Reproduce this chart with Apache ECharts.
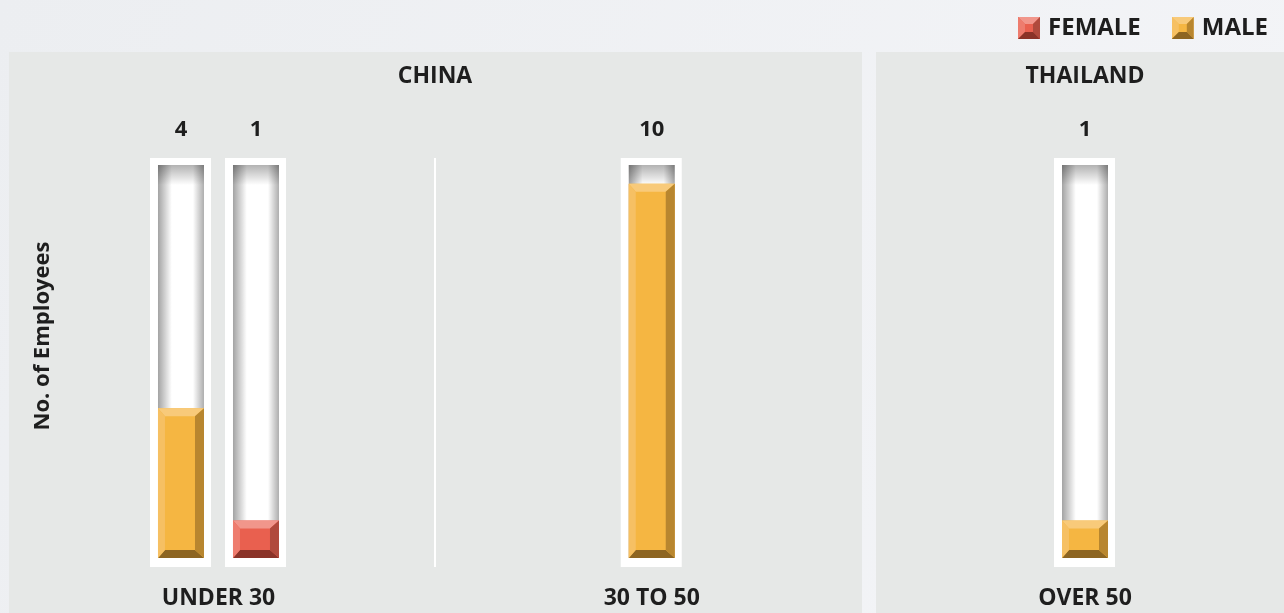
<!DOCTYPE html>
<html>
<head>
<meta charset="utf-8">
<script src="https://cdn.jsdelivr.net/npm/echarts@6/dist/echarts.min.js"></script>
<style>
html,body{margin:0;padding:0;}
#c{width:1284px;height:613px;}
</style>
</head>
<body>
<div id="c"></div>
<script>
const categories = ['UNDER 30', '30 TO 50', 'OVER 50'];
const countries = ['CHINA', 'THAILAND'];
const maleValues = [4, 10, 1];
const femaleValues = [1, null, null];
const yMax = 10.5;

const FONT = "'Open Sans', 'Noto Sans', sans-serif";
const TXT = '#1e1e1e';
const palMale = {main:'#f5b642', top:'#f8ca7a', left:'#f6c063', right:'#b8862f', bottom:'#8d6522'};
const palFemale = {main:'#e9604f', top:'#f1968b', left:'#ee7c6e', right:'#b04a3c', bottom:'#8a3328'};

function iconSvg(p){
  const s = '<svg xmlns="http://www.w3.org/2000/svg" width="22" height="22" viewBox="0 0 22 22">' +
    '<rect x="0" y="0" width="22" height="22" fill="'+p.main+'"/>' +
    '<polygon points="0,0 22,0 15,7 7,7" fill="'+p.top+'"/>' +
    '<polygon points="0,0 7,7 7,15 0,22" fill="'+p.left+'"/>' +
    '<polygon points="22,0 22,22 15,15 15,7" fill="'+p.right+'"/>' +
    '<polygon points="0,22 22,22 15,15 7,15" fill="'+p.bottom+'"/>' +
    '</svg>';
  return 'image://data:image/svg+xml;charset=utf-8,' + encodeURIComponent(s);
}

function makeRender(pal, side){
  return function(params, api){
    const i = api.value(0), v = api.value(1);
    const both = maleValues[i] != null && femaleValues[i] != null;
    const off = both ? side * 37.5 : 0;
    const base = api.coord([i, 0]);
    const topP = api.coord([i, yMax]);
    const valP = api.coord([i, v]);
    const cx = base[0] + off;
    const x0 = cx - 23, x1 = cx + 23;
    const yT = topP[1], yB = base[1], yV = valP[1];
    const bl = 7, br = 9, bt = 8, bb = 8;
    const children = [
      {type:'rect', shape:{x:cx-31, y:yT-7, width:61, height:(yB-yT)+16}, style:{fill:'#ffffff'}},
      {type:'rect', shape:{x:x0, y:yT, width:46, height:yB-yT}, style:{fill:'#ffffff'}},
      {type:'rect', shape:{x:x0, y:yT, width:46, height:yB-yT}, style:{fill:new echarts.graphic.LinearGradient(0,0,1,0,[
        {offset:0,color:'rgba(0,0,0,0.36)'},{offset:0.3,color:'rgba(0,0,0,0)'},
        {offset:0.76,color:'rgba(0,0,0,0)'},{offset:1,color:'rgba(0,0,0,0.32)'}])}},
      {type:'rect', shape:{x:x0, y:yT, width:46, height:20}, style:{fill:new echarts.graphic.LinearGradient(0,0,0,1,[
        {offset:0,color:'rgba(0,0,0,0.30)'},{offset:1,color:'rgba(0,0,0,0)'}])}},
      {type:'rect', shape:{x:x0, y:yV, width:46, height:yB-yV}, style:{fill:pal.main}},
      {type:'polygon', shape:{points:[[x0,yV],[x1,yV],[x1-br,yV+bt],[x0+bl,yV+bt]]}, style:{fill:pal.top}},
      {type:'polygon', shape:{points:[[x0,yB],[x1,yB],[x1-br,yB-bb],[x0+bl,yB-bb]]}, style:{fill:pal.bottom}},
      {type:'polygon', shape:{points:[[x0,yV],[x0+bl,yV+bt],[x0+bl,yB-bb],[x0,yB]]}, style:{fill:pal.left}},
      {type:'polygon', shape:{points:[[x1,yV],[x1-br,yV+bt],[x1-br,yB-bb],[x1,yB]]}, style:{fill:pal.right}},
      {type:'text', x:cx, y:yT-35, style:{text:String(v), fill:TXT, font:'bold 22px '+FONT, align:'center', verticalAlign:'middle'}}
    ];
    // category label drawn once per category (by the male series)
    if (side === -1) {
      children.push({type:'text', x:base[0], y:yB+40, style:{text:categories[i], fill:TXT, font:'bold 23px '+FONT, align:'center', verticalAlign:'middle'}});
    }
    return {type:'group', children:children};
  };
}

const maleData = maleValues.map((v,i)=> v==null ? null : [i, v]).filter(d=>d);
const femaleData = femaleValues.map((v,i)=> v==null ? null : [i, v]).filter(d=>d);

const chart = echarts.init(document.getElementById('c'), null, {renderer:'canvas'});
chart.setOption({
  animation:false,
  backgroundColor: new echarts.graphic.LinearGradient(0,0,1,1,[
    {offset:0,color:'#eceef1'},{offset:1,color:'#f4f5f8'}]),
  textStyle:{fontFamily:FONT},
  legend:{
    right:11, top:11, itemWidth:22, itemHeight:22, itemGap:31,
    textStyle:{fontSize:24, fontWeight:'bold', color:TXT, fontFamily:FONT, padding:[0,0,0,3]},
    data:[{name:'FEMALE', icon:iconSvg(palFemale)},{name:'MALE', icon:iconSvg(palMale)}]
  },
  graphic:[
    {type:'rect', z:-10, silent:true, shape:{x:9, y:52, width:853, height:561}, style:{fill:'#e6e8e7'}},
    {type:'rect', z:-10, silent:true, shape:{x:876, y:52, width:408, height:561}, style:{fill:'#e6e8e7'}},
    {type:'rect', z:-9, silent:true, shape:{x:434, y:158, width:2, height:409}, style:{fill:'#ffffff'}},
    {type:'text', z:5, x:435, y:76, style:{text:countries[0], fill:TXT, font:'bold 23px '+FONT, align:'center', verticalAlign:'middle'}},
    {type:'text', z:5, x:1085, y:76, style:{text:countries[1], fill:TXT, font:'bold 23px '+FONT, align:'center', verticalAlign:'middle'}},
    {type:'text', z:5, x:43, y:336, rotation:Math.PI/2, style:{text:'No. of Employees', fill:TXT, font:'bold 22px '+FONT, align:'center', verticalAlign:'middle'}}
  ],
  grid:{left:0, width:1284, top:165, height:393},
  xAxis:{type:'value', min:-0.5043, max:2.4593, show:false},
  yAxis:{type:'value', min:0, max:yMax, show:false},
  series:[
    {name:'FEMALE', type:'custom', z:3, itemStyle:{color:palFemale.main}, encode:{x:0,y:1}, data:femaleData, renderItem:makeRender(palFemale, 1)},
    {name:'MALE', type:'custom', z:3, itemStyle:{color:palMale.main}, encode:{x:0,y:1}, data:maleData, renderItem:makeRender(palMale, -1)}
  ]
});
</script>
</body>
</html>
